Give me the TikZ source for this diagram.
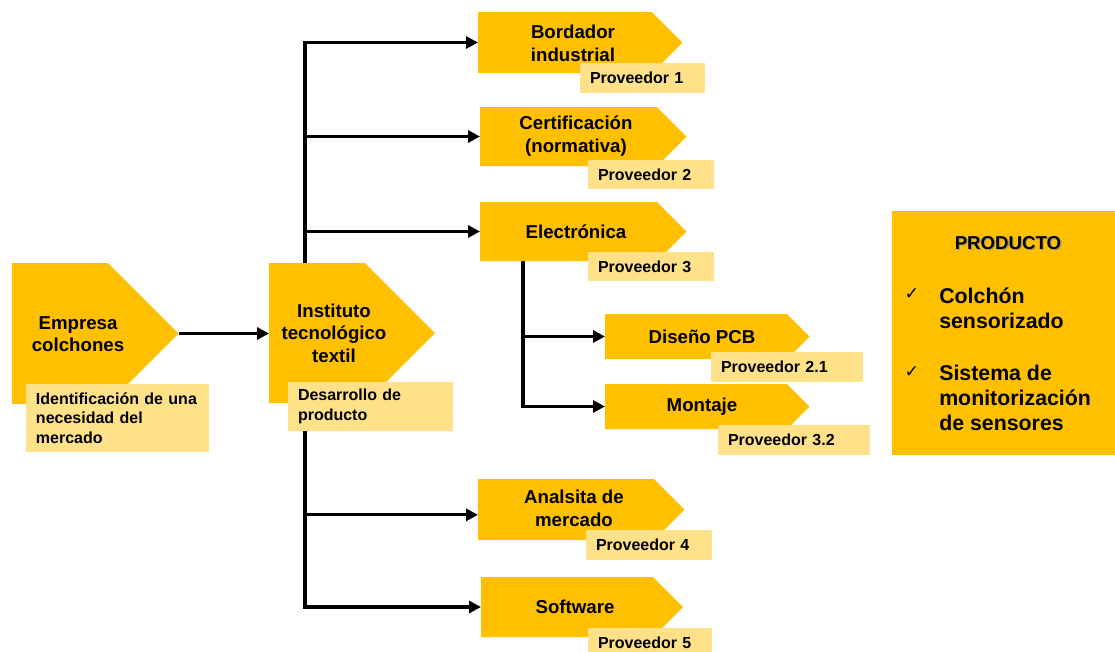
\documentclass[tikz,border=0pt]{standalone}
\usepackage{fontspec}
\setmainfont{Liberation Sans}
\newfontfamily\symfont{DejaVu Sans}
\usetikzlibrary{arrows.meta,calc,backgrounds}

\definecolor{gold}{HTML}{FFC000}
\definecolor{paleGold}{HTML}{FFE189}

\tikzset{
  shapebox/.style={inner sep=0pt, outer sep=0pt},
  maintext/.style={font=\bfseries\fontsize{14}{17}\selectfont, align=center, inner sep=0pt},
  tagbox/.style={fill=paleGold, font=\bfseries\fontsize{12}{14.5}\selectfont,
    anchor=north west, align=left, inner xsep=7.5pt, inner ysep=0pt, outer sep=0pt},
  flow/.style={line width=2.4pt, -{Triangle[length=9pt,width=9pt]}},
  itemtext/.style={font=\bfseries\fontsize{16}{19}\selectfont, align=left, anchor=west, inner sep=0pt},
  checkmark/.style={font=\symfont\fontsize{13}{15}\selectfont, inner sep=0pt},
}

% pentagon arrow: name, left x, top y, body width, height (all in px units)
\newcommand\chevron[5]{%
  \node[shapebox, minimum width=#4*0.75pt, minimum height=#5*0.75pt, anchor=north west] (#1) at (#2,#3) {};
  \coordinate (#1 tip) at ($(#1.east)+(#5/2,0)$);
  \fill[gold] (#1.north west) -- (#1.north east) -- (#1 tip) -- (#1.south east) -- (#1.south west) -- cycle;
}

% pale caption box: name, left x, top y, width, height, text
\newcommand\captionbox[6]{%
  \pgfmathsetmacro\tw{(#4-20)*0.75}%
  \node[tagbox, text width=\tw pt, minimum height=#5*0.75pt] (#1) at (#2,#3) {#6};
}

\begin{document}
\begin{tikzpicture}[x=0.75pt,y=-0.75pt]
  \path[use as bounding box] (0,0) rectangle (1115,651);
  \clip (0,0) rectangle (1115,651);

  % main actors
  \chevron{emp}{12}{263}{96}{141}
  \chevron{inst}{269}{263}{96}{140}
  \node[maintext] (emp text) at (78,334) {Empresa\\colchones};
  \node[maintext] (inst text) at (334,333) {Instituto\\tecnológico\\textil};
  \captionbox{emp cap}{26}{384}{183}{68}{Identificación de una\\necesidad del\\mercado}
  \captionbox{inst cap}{288}{382}{165}{49}{Desarrollo de\\producto}

  % suppliers
  \chevron{bord}{478}{12}{174}{61}
  \chevron{cert}{480}{107}{177}{59}
  \chevron{elec}{480}{202}{177}{59}
  \chevron{dis}{605}{314}{182}{45}
  \chevron{mont}{605}{384}{182}{45}
  \chevron{anal}{478}{479}{176}{61}
  \chevron{soft}{481}{577}{172}{60}

  \node[maintext] (bord text) at (573,43) {Bordador\\industrial};
  \node[maintext] (cert text) at (576,136) {Certificación\\(normativa)};
  \node[maintext] (elec text) at (576,232) {Electrónica};
  \node[maintext] (dis text) at (702,337) {Diseño PCB};
  \node[maintext] (mont text) at (702,407) {Montaje};
  \node[maintext] (anal text) at (574,508) {Analsita de\\mercado};
  \node[maintext] (soft text) at (575,607) {Software};

  \captionbox{p1}{580}{63}{125}{30}{Proveedor 1}
  \captionbox{p2}{588}{160}{126}{29}{Proveedor 2}
  \captionbox{p3}{588}{252}{126}{29}{Proveedor 3}
  \captionbox{p21}{711}{352}{152}{30}{Proveedor 2.1}
  \captionbox{p32}{718}{425}{152}{30}{Proveedor 3.2}
  \captionbox{p4}{586}{530}{126}{30}{Proveedor 4}
  \captionbox{p5}{588}{628}{124}{30}{Proveedor 5}

  % product summary
  \node[shapebox, fill=gold, anchor=north west, minimum width=223*0.75pt, minimum height=244*0.75pt] (prod) at (892,211) {};
  \node[font=\bfseries\fontsize{14}{17}\selectfont, text=black!45, opacity=0.7, inner sep=0pt] (prod shadow) at (1009.3,244.3) {PRODUCTO};
  \node[font=\bfseries\fontsize{14}{17}\selectfont, inner sep=0pt] (prod title) at (1008,243) {PRODUCTO};
  \node[checkmark] (check1) at (912,294) {✓};
  \node[checkmark] (check2) at (912,372) {✓};
  \node[itemtext] (item1) at (939,308) {Colchón\\sensorizado};
  \node[itemtext] (item2) at (939,398) {Sistema de\\monitorización\\de sensores};

  % connectors
  \begin{pgfonlayer}{background}
    \coordinate (trunk) at (305,333);
    \coordinate (sub) at (523,232);
    \draw[flow] (emp tip) -- (emp tip -| inst.west);
    \draw[flow] (trunk) |- (bord.west);
    \draw[flow] (trunk) |- (cert.west);
    \draw[flow] (trunk) |- (elec.west);
    \draw[flow] (trunk) |- ([yshift=-4pt]anal.west);
    \draw[flow] (trunk) |- (soft.west);
    \draw[flow] (sub) |- (dis.west);
    \draw[flow] (sub) |- (mont.west);
  \end{pgfonlayer}
\end{tikzpicture}
\end{document}
